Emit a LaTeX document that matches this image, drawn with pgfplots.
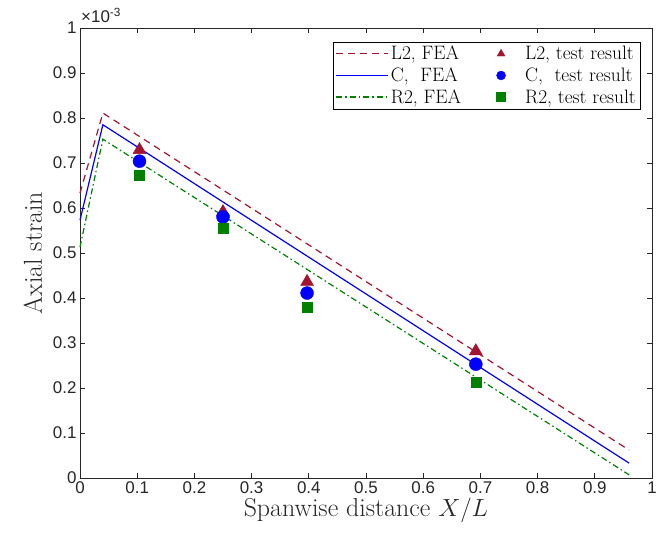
\documentclass[border=0pt]{standalone}
\usepackage{pgfplots}
\pgfplotsset{compat=1.18}
\usepackage{fontspec}
\newfontfamily\ticksans{Liberation Sans}
\definecolor{L2c}{rgb}{0.635,0.078,0.184}
\definecolor{Gc}{rgb}{0,0.5,0}
\definecolor{axc}{rgb}{0.15,0.15,0.15}
\tikzset{L2line/.style={draw=L2c, line width=1.2bp, dash pattern=on 7bp off 5bp},
  Cline/.style={draw=blue, line width=1.2bp},
  R2line/.style={draw=Gc, line width=1.2bp, dash pattern=on 6bp off 3bp on 1.5bp off 3bp}}
\newcommand\legline[2]{%
  \pgfscope
  \color{#1}\pgfsetstrokecolor{#1}\pgfsetlinewidth{1.4bp}\pgfsetdash{#2}{0bp}%
  \pgfpathmoveto{\pgfpoint{0bp}{0bp}}\pgfpathlineto{\pgfpoint{52bp}{0bp}}%
  \pgfusepath{stroke}%
  \endpgfscope}
\pgfplotsset{
  L2leg/.style={legend image code/.code={\legline{L2c}{{7bp}{5bp}}}},
  Cleg/.style={legend image code/.code={\legline{blue}{}}},
  R2leg/.style={legend image code/.code={\legline{Gc}{{6bp}{3bp}{1.5bp}{3bp}}}},
  markleg/.style 2 args={legend image code/.code={%
     \path[draw=none, fill=none] (-16bp,0bp) -- (22bp,0bp);
     \path[draw=#1, fill=#1, line width=0.4bp] plot[only marks, mark=#2, mark size=4.5bp] coordinates {(0bp,0bp)};}}}
\begin{document}
\begin{tikzpicture}
\begin{axis}[name=ax, scale only axis, width=572bp, height=450bp,
  xmin=0, xmax=1, ymin=0, ymax=1,
  xtick={0,0.1,0.2,0.3,0.4,0.5,0.6,0.7,0.8,0.9,1},
  xticklabels={0,0.1,0.2,0.3,0.4,0.5,0.6,0.7,0.8,0.9,1},
  ytick={0,0.1,0.2,0.3,0.4,0.5,0.6,0.7,0.8,0.9,1},
  yticklabels={0,0.1,0.2,0.3,0.4,0.5,0.6,0.7,0.8,0.9,1},
  tick align=inside, xtick pos=both, ytick pos=both, ticklabel pos=left,
  major tick length=5bp,
  axis line style={axc, line width=0.8bp},
  tick style={axc, line width=0.8bp},
  ticklabel style={font=\ticksans\fontsize{17}{19}\selectfont, text=axc},
  /pgf/number format/assume math mode=true,
  xlabel={Spanwise distance $X/L$}, ylabel={Axial strain},
  label style={font=\fontsize{26}{30}\selectfont, text=axc},
  xlabel style={yshift=2bp},
  ylabel style={yshift=4bp},
  clip=false,
  legend columns=2,
  legend cell align=left,
  legend style={at={(0.979,0.969)}, anchor=north east, draw=black,
    font=\fontsize{19.5}{22}\selectfont, row sep=2.5bp, inner sep=2bp,
    /tikz/every even column/.append style={column sep=22bp}},
]
\addplot[L2line, L2leg]
  coordinates {(0,0.633) (0.04,0.811) (0.96,0.062)};
\addlegendentry{L2, FEA}
\addplot[only marks, mark=triangle*, mark size=7.5bp, color=L2c, markleg={L2c}{triangle*}]
  coordinates {(0.104,0.729) (0.25,0.591) (0.397,0.436) (0.692,0.282)};
\addlegendentry{L2, test result}
\addplot[Cline, Cleg]
  coordinates {(0,0.573) (0.04,0.785) (0.96,0.033)};
\addlegendentry{C,\ \ FEA}
\addplot[only marks, mark=*, mark size=6.5bp, color=blue, markleg={blue}{*}]
  coordinates {(0.104,0.704) (0.25,0.580) (0.397,0.411) (0.692,0.253)};
\addlegendentry{C,\ \ test result}
\addplot[R2line, R2leg]
  coordinates {(0,0.513) (0.04,0.753) (0.96,0.007)};
\addlegendentry{R2, FEA}
\addplot[only marks, mark=square*, mark size=5bp, color=Gc, markleg={Gc}{square*}]
  coordinates {(0.104,0.673) (0.25,0.556) (0.397,0.380) (0.692,0.213)};
\addlegendentry{R2, test result}
\end{axis}
\node[anchor=south west, inner sep=0pt, text=axc, font=\ticksans\fontsize{17}{19}\selectfont]
  at ([shift={(1bp,5bp)}]ax.north west) {×10\textsuperscript{-3}};
\path ([shift={(-80bp,-61bp)}]ax.south west) rectangle ([shift={(20bp,28bp)}]ax.north east);
\end{tikzpicture}
\end{document}
